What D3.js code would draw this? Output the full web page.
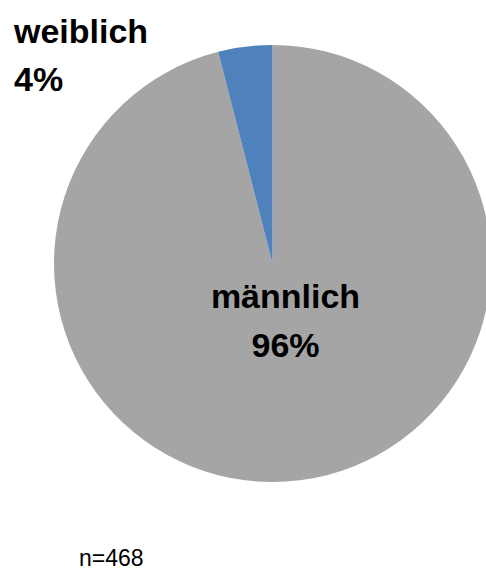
<!DOCTYPE html>
<html>
<head>
<meta charset="utf-8">
<script src="https://cdn.jsdelivr.net/npm/d3@7"></script>
<style>
  html, body { margin: 0; padding: 0; background: #fff; }
  svg { display: block; }
</style>
</head>
<body>
<svg id="chart" width="486" height="570"></svg>
<script>
const categories = ["männlich", "weiblich"];
const percentages = [96, 4];
const sampleNote = "n=468";

const colors = ["#A5A5A5", "#4F81BD"];
const width = 486, height = 570;
const cx = 272.5, cy = 263.5, radius = 218.5;

const svg = d3.select("#chart");
const g = svg.append("g").attr("transform", `translate(${cx},${cy})`);

const data = categories.map((c, i) => ({ name: c, value: percentages[i], color: colors[i] }));
const pie = d3.pie().sort(null).value(d => d.value).startAngle(0).endAngle(2 * Math.PI);
const arc = d3.arc().innerRadius(0).outerRadius(radius);

g.selectAll("path").data(pie(data)).join("path")
  .attr("d", arc)
  .attr("fill", d => d.data.color);

const font = "'Liberation Sans', Arial, sans-serif";

// label for männlich (inside)
const mText = svg.append("text")
  .attr("x", 285.5).attr("y", 308)
  .attr("text-anchor", "middle")
  .style("font-family", font).style("font-weight", "bold").style("font-size", "34px")
  .attr("fill", "#000");
mText.append("tspan").attr("x", 285.5).attr("y", 308).text(data[0].name);
mText.append("tspan").attr("x", 285.5).attr("y", 357).text(data[0].value + "%");

// label for weiblich (outside, top-left)
const wText = svg.append("text")
  .attr("x", 14).attr("y", 43)
  .attr("text-anchor", "start")
  .style("font-family", font).style("font-weight", "bold").style("font-size", "34px")
  .attr("fill", "#000");
wText.append("tspan").attr("x", 14).attr("y", 43).text(data[1].name);
wText.append("tspan").attr("x", 14).attr("y", 91).text(data[1].value + "%");

svg.append("text")
  .attr("x", 79).attr("y", 566)
  .style("font-family", font).style("font-size", "23px")
  .attr("fill", "#000")
  .text(sampleNote);
</script>
</body>
</html>
